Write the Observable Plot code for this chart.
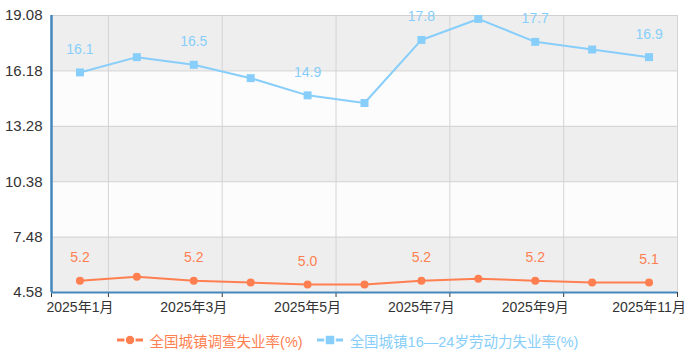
<!DOCTYPE html>
<html>
<head>
<meta charset="utf-8">
<script src="https://cdn.jsdelivr.net/npm/d3@7"></script>
<script src="https://cdn.jsdelivr.net/npm/@observablehq/plot@0.6"></script>
<style>
  body { margin: 0; background: #fff; font-family: "Liberation Sans", "Noto Sans CJK SC", sans-serif; }
  #chart { width: 691px; }
  #legend { width: 691px; height: 30px; display: flex; justify-content: center; align-items: center; font-size: 14.5px; padding-left: 4px; box-sizing: border-box; }
  .item { display: flex; align-items: center; margin: 0 7px; }
  .item svg { margin-right: 7px; }
</style>
</head>
<body>
<div id="chart"></div>
<div id="legend"></div>
<script>
const months = ["2025年1月","2025年2月","2025年3月","2025年4月","2025年5月","2025年6月","2025年7月","2025年8月","2025年9月","2025年10月","2025年11月"];
const urban = [5.2, 5.4, 5.2, 5.1, 5.0, 5.0, 5.2, 5.3, 5.2, 5.1, 5.1];
const youth = [16.1, 16.9, 16.5, 15.8, 14.9, 14.5, 17.8, 18.9, 17.7, 17.3, 16.9];
const yTicks = [4.58, 7.48, 10.38, 13.28, 16.18, 19.08];
const seriesNames = ["全国城镇调查失业率(%)", "全国城镇16—24岁劳动力失业率(%)"];
const colors = ["#ff7f50", "#87cefa"];

const urbanData = urban.map((v, i) => ({i, v}));
const youthData = youth.map((v, i) => ({i, v}));
const bands = yTicks.slice(0, -1).map((lo, k) => ({lo, hi: yTicks[k + 1], k}));
const labelIdx = months.map((m, i) => i).filter(i => i % 2 === 0);
const gridX = labelIdx.map(i => i + 0.5);
const tickX = [-0.5, ...gridX];

const chart = Plot.plot({
  width: 691,
  height: 325,
  marginLeft: 51,
  marginRight: 14,
  marginTop: 15,
  marginBottom: 33,
  x: {type: "linear", domain: [-0.5, months.length - 0.5], label: null},
  y: {domain: [yTicks[0], yTicks[yTicks.length - 1]], label: null},
  style: {fontFamily: '"Liberation Sans", "Noto Sans CJK SC", sans-serif', fontSize: "14px", color: "#333", background: "transparent"},
  marks: [
    Plot.rect(bands.filter(b => b.k % 2 === 0), {y1: "lo", y2: "hi", fill: "#eeeeee"}),
    Plot.rect(bands.filter(b => b.k % 2 === 1), {y1: "lo", y2: "hi", fill: "#fcfcfc"}),
    Plot.ruleY(yTicks, {stroke: "#d0d0d0", strokeWidth: 1}),
    Plot.ruleX(gridX, {stroke: "#d4d4d4", strokeWidth: 1}),
    Plot.axisY({ticks: yTicks, tickSize: 0, tickPadding: 9, tickFormat: d => d.toFixed(2), fontSize: 15, fill: "#333", label: null}),
    Plot.axisX({ticks: labelIdx, tickSize: 0, tickPadding: 10, tickFormat: i => months[i], fontSize: 14, fill: "#333", label: null}),
    Plot.axisX({ticks: tickX, tickSize: 5, tickFormat: () => "", stroke: "#333", label: null}),
    Plot.line(urbanData, {x: "i", y: "v", stroke: colors[0], strokeWidth: 2}),
    Plot.line(youthData, {x: "i", y: "v", stroke: colors[1], strokeWidth: 2}),
    Plot.dot(urbanData, {x: "i", y: "v", fill: colors[0], r: 4, symbol: "circle"}),
    Plot.dot(youthData, {x: "i", y: "v", fill: colors[1], r: 4.5, symbol: "square"}),
    Plot.text(urbanData.filter(d => d.i % 2 === 0), {x: "i", y: "v", text: d => d.v.toFixed(1), dy: -23, fill: colors[0], fontSize: 14}),
    Plot.text(youthData.filter(d => d.i % 2 === 0), {x: "i", y: "v", text: d => d.v.toFixed(1), dy: -23, fill: colors[1], fontSize: 14}),
    Plot.ruleY([yTicks[0]], {stroke: "#4488bb", strokeWidth: 2}),
    Plot.ruleX([-0.5], {stroke: "#4488bb", strokeWidth: 2.5})
  ]
});
document.getElementById("chart").appendChild(chart);

const legend = document.getElementById("legend");
seriesNames.forEach((name, k) => {
  const item = document.createElement("div");
  item.className = "item";
  item.style.color = colors[k];
  const marker = k === 0
    ? `<circle cx="13" cy="8" r="5" fill="${colors[k]}" stroke="#fff" stroke-width="1.5"/>`
    : `<rect x="8" y="3" width="10" height="10" fill="${colors[k]}" stroke="#fff" stroke-width="1.5"/>`;
  item.innerHTML = `<svg width="26" height="16"><line x1="0" y1="8" x2="26" y2="8" stroke="${colors[k]}" stroke-width="3"/>${marker}</svg><span>${name}</span>`;
  legend.appendChild(item);
});
</script>
</body>
</html>
